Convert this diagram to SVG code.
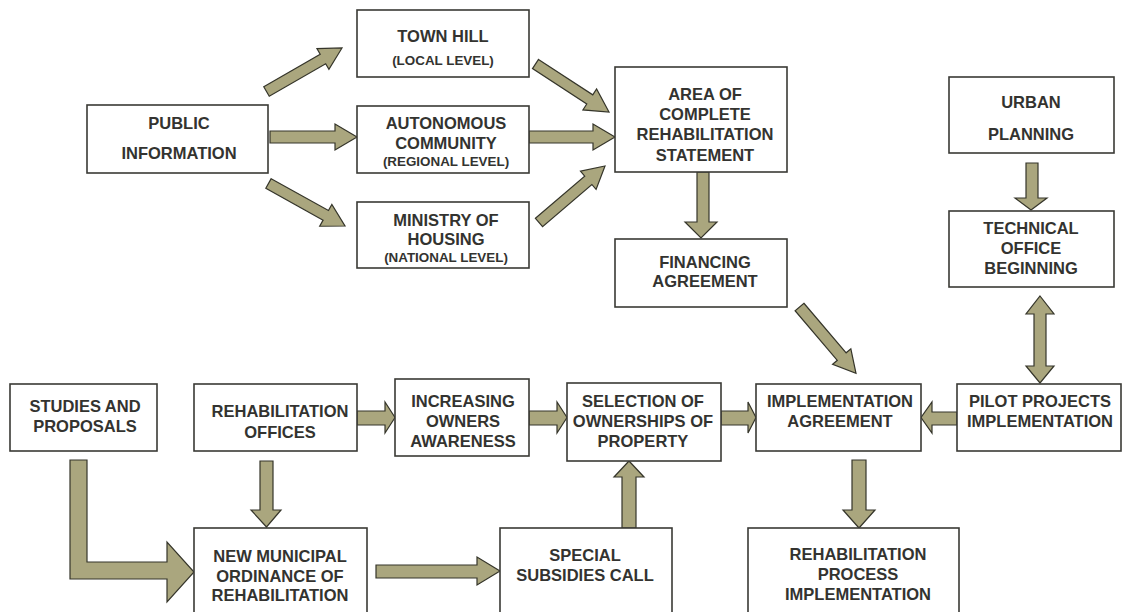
<svg xmlns="http://www.w3.org/2000/svg" width="1122" height="612" viewBox="0 0 1122 612">
<style>
.box{fill:#fff;stroke:#3a3a35;stroke-width:1.6}
.t{font-family:"Liberation Sans",Arial,sans-serif;font-weight:bold;font-size:16.5px;fill:#333330;text-anchor:middle}
.s{font-size:13.4px}
.ar{fill:#aaa67e;stroke:#35352a;stroke-width:1.2;stroke-linejoin:miter}
</style>
<rect width="1122" height="612" fill="#fff"/>
<g id="connectors">
<polygon class="ar" points="263.76,86.73 320.19,54.21 316.94,48.58 342,48 328.92,69.38 325.67,63.75 269.24,96.27"/>
<polygon class="ar" points="270,131 335,131 335,124 357,137 335,150 335,143 270,143"/>
<polygon class="ar" points="271.17,178.69 328.44,210.5 331.85,204.38 345,226 319.69,226.24 323.1,220.12 265.83,188.31"/>
<polygon class="ar" points="538.51,59.4 592.76,94.82 596.59,88.96 609,112 582.91,109.88 586.74,104.02 532.49,68.6"/>
<polygon class="ar" points="529,131 593,131 593,124 615,137 593,150 593,143 529,143"/>
<polygon class="ar" points="535.42,218.32 584.7,176.12 580.48,171.18 605,166 596.08,189.42 591.86,184.48 542.58,226.68"/>
<polygon class="ar" points="697,172 709,172 709,222 717,222 701,238 685,222 697,222"/>
<polygon class="ar" points="1026,163 1038,163 1038,198 1047,198 1031,210 1015,198 1026,198"/>
<polygon class="ar" points="1040,296 1054,314 1046,314 1046,366 1054,366 1040,383 1026,366 1034,366 1034,314 1026,314"/>
<polygon class="ar" points="803.91,303.24 846.13,352.8 850.85,348.77 856,373.3 832.59,364.35 837.31,360.32 795.09,310.76"/>
<polygon class="ar" points="957,412 932,412 932,402 921,417.5 932,433 932,425 957,425"/>
<polygon class="ar" points="357,411 385,411 385,402 395,417.5 385,433 385,425 357,425"/>
<polygon class="ar" points="529,411 557,411 557,402 567,417.5 557,433 557,425 529,425"/>
<polygon class="ar" points="721,411 748,411 748,402 756,417.5 748,433 748,425 721,425"/>
<polygon class="ar" points="622,528 622,477 614,477 629,461 644,477 636,477 636,528"/>
<polygon class="ar" points="260,461 273,461 273,510 281,510 266.5,527 251,510 260,510"/>
<polygon class="ar" points="852,460 866,460 866,510 875,510 859,528 843,510 852,510"/>
<polygon class="ar" points="70,460 87,460 87,562 167,562 167,542 194,572 167,602 167,579 70,579"/>
<polygon class="ar" points="376,565 477,565 477,557 500,571 477,585 477,578 376,578"/>
</g>
<g id="public"><rect class="box" x="87" y="105" width="181" height="68"/><text class="t" x="179" y="129">PUBLIC</text><text class="t" x="179" y="159">INFORMATION</text></g>
<g id="townhill"><rect class="box" x="357" y="10" width="172" height="67"/><text class="t" x="443" y="42">TOWN HILL</text><text class="t s" x="443" y="65">(LOCAL LEVEL)</text></g>
<g id="autonomous"><rect class="box" x="357" y="106" width="172" height="67"/><text class="t" x="446" y="129">AUTONOMOUS</text><text class="t" x="446" y="149">COMMUNITY</text><text class="t s" x="446" y="166">(REGIONAL LEVEL)</text></g>
<g id="ministry"><rect class="box" x="357" y="202" width="172" height="66"/><text class="t" x="446" y="226">MINISTRY OF</text><text class="t" x="446" y="245">HOUSING</text><text class="t s" x="446" y="262">(NATIONAL LEVEL)</text></g>
<g id="area"><rect class="box" x="615" y="67" width="172" height="105"/><text class="t" x="705" y="100">AREA OF</text><text class="t" x="705" y="120">COMPLETE</text><text class="t" x="705" y="140">REHABILITATION</text><text class="t" x="705" y="161">STATEMENT</text></g>
<g id="financing"><rect class="box" x="615" y="239" width="172" height="68"/><text class="t" x="705" y="268">FINANCING</text><text class="t" x="705" y="287">AGREEMENT</text></g>
<g id="urban"><rect class="box" x="949" y="77" width="165" height="76"/><text class="t" x="1031" y="108">URBAN</text><text class="t" x="1031" y="140">PLANNING</text></g>
<g id="technical"><rect class="box" x="949" y="211" width="165" height="76"/><text class="t" x="1031" y="234">TECHNICAL</text><text class="t" x="1031" y="254">OFFICE</text><text class="t" x="1031" y="274">BEGINNING</text></g>
<g id="studies"><rect class="box" x="10" y="384" width="147" height="67"/><text class="t" x="85" y="412">STUDIES AND</text><text class="t" x="85" y="432">PROPOSALS</text></g>
<g id="rehaboffices"><rect class="box" x="194" y="384" width="163" height="67"/><text class="t" x="280" y="417">REHABILITATION</text><text class="t" x="280" y="438">OFFICES</text></g>
<g id="increasing"><rect class="box" x="395" y="379" width="134" height="77"/><text class="t" x="463" y="407">INCREASING</text><text class="t" x="463" y="427">OWNERS</text><text class="t" x="463" y="447">AWARENESS</text></g>
<g id="selection"><rect class="box" x="567" y="383" width="154" height="78"/><text class="t" x="643" y="407">SELECTION OF</text><text class="t" x="643" y="427">OWNERSHIPS OF</text><text class="t" x="643" y="447">PROPERTY</text></g>
<g id="implementation"><rect class="box" x="756" y="384" width="165" height="67"/><text class="t" x="840" y="407">IMPLEMENTATION</text><text class="t" x="840" y="427">AGREEMENT</text></g>
<g id="pilot"><rect class="box" x="957" y="384" width="164" height="67"/><text class="t" x="1040" y="407">PILOT PROJECTS</text><text class="t" x="1040" y="427">IMPLEMENTATION</text></g>
<g id="newmunicipal"><rect class="box" x="194" y="528" width="173" height="100"/><text class="t" x="280" y="562">NEW MUNICIPAL</text><text class="t" x="280" y="582">ORDINANCE OF</text><text class="t" x="280" y="601">REHABILITATION</text></g>
<g id="special"><rect class="box" x="500" y="528" width="172" height="100"/><text class="t" x="585" y="561">SPECIAL</text><text class="t" x="585" y="581">SUBSIDIES CALL</text></g>
<g id="rehabprocess"><rect class="box" x="748" y="528" width="211" height="100"/><text class="t" x="858" y="560">REHABILITATION</text><text class="t" x="858" y="580">PROCESS</text><text class="t" x="858" y="600">IMPLEMENTATION</text></g>
</svg>
